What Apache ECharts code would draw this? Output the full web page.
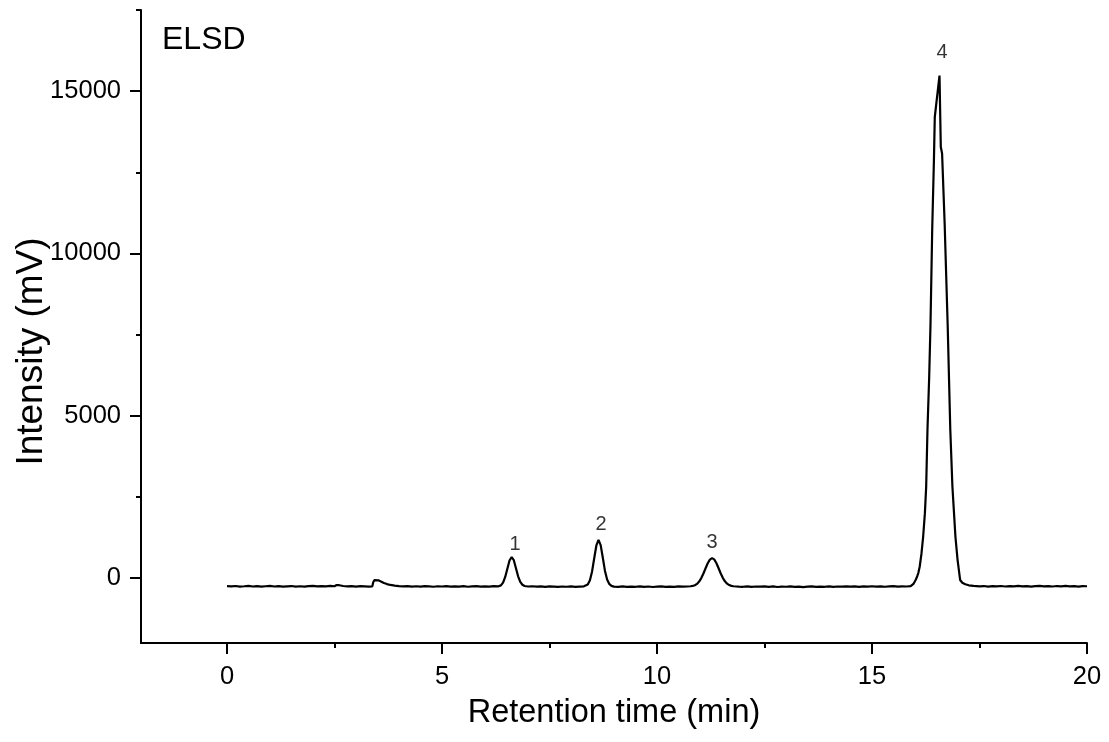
<!DOCTYPE html>
<html><head><meta charset="utf-8">
<script src="https://cdn.jsdelivr.net/npm/echarts@6/dist/echarts.min.js"></script>
<style>html,body{margin:0;padding:0;background:#fff}#c{width:1109px;height:742px}</style>
</head><body><div id="c"></div>
<script>
// Chromatogram trace: [retention time (min), intensity (mV)]
const trace = [
[0.0,-250],[0.1,-258],[0.2,-244],[0.3,-262],[0.4,-252],[0.5,-241],[0.6,-259],[0.7,-248],[0.8,-265],[0.9,-251],[1.0,-243],[1.1,-260],[1.2,-250],[1.3,-266],[1.4,-255],[1.5,-245],[1.6,-261],[1.7,-252],[1.8,-264],[1.9,-248],[2.0,-240],[2.1,-257],[2.2,-246],[2.3,-255],[2.4,-242],[2.5,-252],
[2.55,-215],[2.58,-175],[2.61,-220],[2.65,-250],[2.7,-244],[2.8,-258],[2.9,-247],[3.0,-261],[3.1,-249],[3.2,-255],[3.3,-264],[3.38,-256],
[3.40,-130],[3.43,-65],[3.47,-48],[3.52,-70],[3.58,-105],[3.65,-150],[3.72,-185],[3.8,-212],[3.9,-234],[4.0,-249],[4.1,-258],[4.2,-246],[4.3,-261],[4.4,-251],[4.5,-264],[4.6,-248],[4.7,-257],[4.8,-267],[4.9,-252],[5.0,-259],[5.1,-247],[5.2,-265],[5.3,-254],[5.4,-261],[5.5,-249],[5.6,-267],[5.7,-256],[5.8,-246],[5.9,-262],[6.0,-253],[6.1,-265],[6.2,-250],[6.3,-258],
[6.37,-225],[6.42,-140],[6.47,35],[6.52,290],[6.57,540],[6.62,648],[6.67,550],[6.72,305],[6.77,55],[6.82,-115],[6.87,-205],[6.92,-243],[7.0,-260],[7.1,-252],[7.2,-266],[7.3,-257],[7.4,-269],[7.5,-255],[7.6,-264],[7.7,-273],[7.8,-259],[7.9,-267],[8.0,-256],[8.1,-270],[8.2,-261],[8.3,-253],
[8.39,-200],[8.44,-65],[8.49,205],[8.54,610],[8.59,1005],[8.64,1178],[8.69,1015],[8.74,625],[8.79,220],[8.84,-45],[8.89,-180],[8.94,-240],[9.0,-262],[9.1,-270],[9.2,-256],[9.3,-273],[9.4,-262],[9.5,-268],[9.6,-255],[9.7,-271],[9.8,-260],[9.9,-275],[10.0,-264],[10.1,-257],[10.2,-272],[10.3,-261],[10.4,-269],[10.5,-255],[10.6,-266],[10.7,-259],
[10.78,-252],[10.83,-242],[10.88,-220],[10.93,-180],[10.98,-108],[11.03,0],[11.08,140],[11.13,302],[11.18,458],[11.23,570],[11.28,615],[11.33,575],[11.38,465],[11.43,310],[11.48,148],[11.53,8],[11.58,-100],[11.63,-172],[11.68,-215],[11.73,-240],[11.78,-252],
[11.9,-262],[12.0,-268],[12.1,-255],[12.2,-271],[12.3,-260],[12.4,-265],[12.5,-253],[12.6,-269],[12.7,-258],[12.8,-274],[12.9,-262],[13.0,-267],[13.1,-256],[13.2,-270],[13.3,-261],[13.4,-276],[13.5,-264],[13.6,-257],[13.7,-272],[13.8,-261],[13.9,-268],[14.0,-255],[14.1,-270],[14.2,-259],[14.3,-266],[14.4,-253],[14.5,-264],[14.6,-257],[14.7,-269],[14.8,-256],[14.9,-264],[15.0,-251],[15.1,-262],[15.2,-255],[15.3,-267],[15.4,-256],[15.5,-250],[15.6,-263],[15.7,-253],[15.8,-259],[15.9,-248],
[15.97,-170],[16.02,-45],[16.05,49],[16.08,170],[16.11,357],[16.15,750],[16.19,1280],[16.23,2000],[16.26,2818],[16.29,4560],[16.33,6200],[16.36,7790],[16.40,10720],[16.44,12870],[16.46,14200],[16.50,14670],[16.57,15480],[16.60,13280],[16.63,13080],[16.69,10900],[16.76,7790],[16.82,4600],[16.87,2820],[16.94,1280],[16.99,563],[17.05,-60],[17.10,-145],[17.17,-190],[17.25,-222],[17.36,-240],
[17.5,-256],[17.6,-245],[17.7,-262],[17.8,-250],[17.9,-257],[18.0,-244],[18.1,-260],[18.2,-249],[18.3,-255],[18.4,-242],[18.5,-258],[18.6,-247],[18.7,-261],[18.8,-250],[18.9,-242],[19.0,-256],[19.1,-247],[19.2,-260],[19.3,-245],[19.4,-253],[19.5,-242],[19.6,-257],[19.7,-249],[19.8,-261],[19.9,-246],[20.0,-252]
];

// Peak annotations
const peakNames = ['1', '2', '3', '4'];
const peakLabelTimes = [6.70, 8.70, 11.28, 16.63];
const peakLabelLevels = [1025, 1640, 1095, 16203];

// Axis ticks
const xMajorTicks = [0, 5, 10, 15, 20];
const xMinorTicks = [2.5, 7.5, 12.5, 17.5];
const yMajorTicks = [0, 5000, 10000, 15000];
const yMinorTicks = [2500, 7500, 12500, 17500];

const FONT = "'Liberation Sans', Arial, Helvetica, sans-serif";
const black = '#000';

const chart = echarts.init(document.getElementById('c'), null, {renderer: 'canvas'});

const baseX = {
  type: 'value', min: -2, max: 20, position: 'bottom',
  splitLine: {show: false}
};
const baseY = {
  type: 'value', min: -2000, max: 17500, position: 'left',
  splitLine: {show: false}
};

chart.setOption({
  animation: false,
  backgroundColor: '#fff',
  title: {
    text: 'ELSD', left: 157, top: 19,
    textStyle: {fontFamily: FONT, fontSize: 32, fontWeight: 'normal', color: black}
  },
  grid: {left: 141, right: 22, top: 10, bottom: 99, containLabel: false, outerBoundsMode: 'none'},
  xAxis: [
    Object.assign({}, baseX, {
      axisLine: {show: true, onZero: false, lineStyle: {color: black, width: 2}},
      axisTick: {show: true, customValues: xMajorTicks, length: 11, lineStyle: {color: black, width: 2}},
      axisLabel: {show: true, customValues: xMajorTicks, formatter: v => String(v), fontFamily: FONT, fontSize: 25.5, color: black, margin: 21},
      name: 'Retention time (min)', nameLocation: 'middle', nameGap: 54, nameMoveOverlap: false,
      nameTextStyle: {fontFamily: FONT, fontSize: 32.5, color: black}
    }),
    Object.assign({}, baseX, {
      axisLine: {show: false, onZero: false},
      axisTick: {show: true, customValues: xMinorTicks, length: 5, lineStyle: {color: black, width: 2}},
      axisLabel: {show: false}
    })
  ],
  yAxis: [
    Object.assign({}, baseY, {
      axisLine: {show: true, onZero: false, lineStyle: {color: black, width: 2}},
      axisTick: {show: true, customValues: yMajorTicks, length: 11, lineStyle: {color: black, width: 2}},
      axisLabel: {show: true, customValues: yMajorTicks, formatter: v => String(v), fontFamily: FONT, fontSize: 25.5, color: black, margin: 20},
      name: 'Intensity (mV)', nameLocation: 'middle', nameGap: 91, nameMoveOverlap: false,
      nameTextStyle: {fontFamily: FONT, fontSize: 37, color: black, padding: [0, 50, 0, 0]}
    }),
    Object.assign({}, baseY, {
      axisLine: {show: false, onZero: false},
      axisTick: {show: true, customValues: yMinorTicks, length: 5, lineStyle: {color: black, width: 2}},
      axisLabel: {show: false}
    })
  ],
  series: [
    {
      type: 'line', xAxisIndex: 0, yAxisIndex: 0,
      data: trace, showSymbol: false, symbol: 'none', smooth: false,
      lineStyle: {color: black, width: 2.2}, silent: true
    },
    {
      type: 'scatter', xAxisIndex: 0, yAxisIndex: 0, symbolSize: 0, silent: true,
      data: peakNames.map((n, i) => ({name: n, value: [peakLabelTimes[i], peakLabelLevels[i]]})),
      label: {show: true, position: 'inside', formatter: p => p.name, fontFamily: FONT, fontSize: 20, color: black}
    }
  ]
});
</script>
</body></html>
